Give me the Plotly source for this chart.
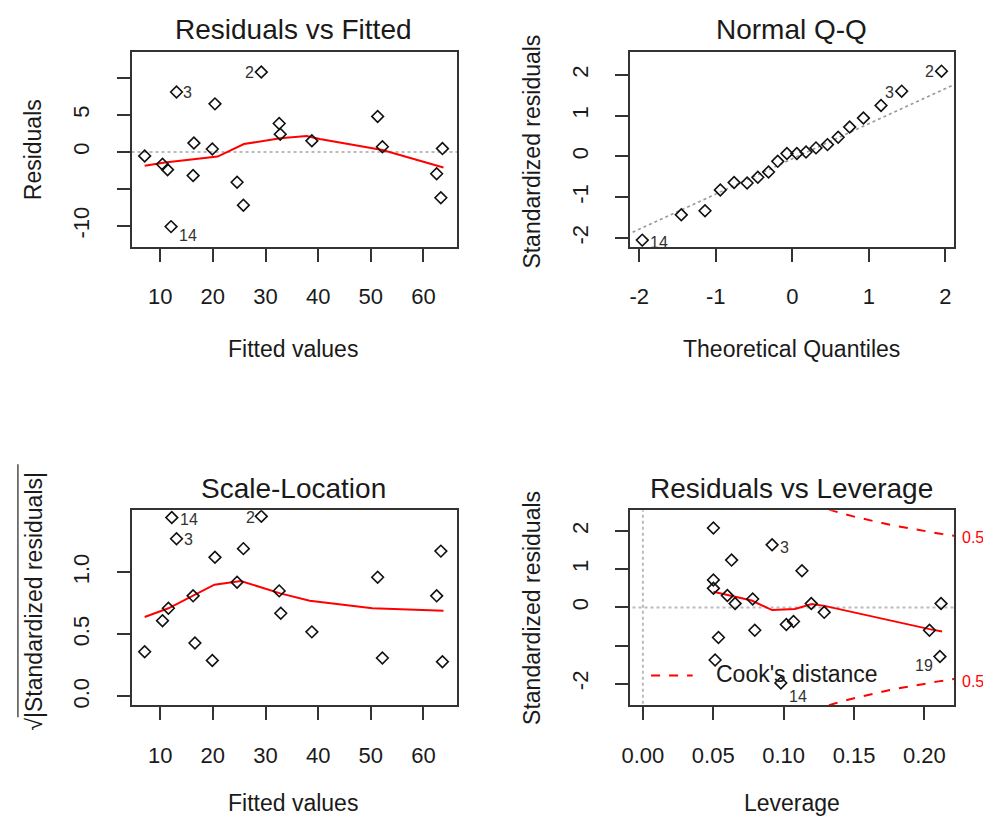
import plotly.graph_objects as go

# ---------------- data ----------------
# Residuals vs Fitted
fitted = [7.05, 10.44, 11.4, 12.06, 13.1, 16.25, 16.4, 19.9, 20.4, 24.6,
          25.8, 29.2, 32.6, 32.8, 38.8, 51.3, 52.2, 62.5, 63.3, 63.6]
resid = [-0.54, -1.66, -2.4, -10.1, 8.1, -3.2, 1.2, 0.4, 6.5, -4.1,
         -7.2, 10.8, 3.85, 2.4, 1.5, 4.8, 0.7, -2.95, -6.2, 0.45]
rf_smooth_x = [7.05, 10.9, 20.9, 25.9, 32.8, 37.8, 40.3, 52.2, 63.8]
rf_smooth_y = [-1.88, -1.43, -0.63, 1.07, 1.84, 2.15, 1.74, 0.27, -2.1]
rf_labels = [("2", 11), ("3", 4), ("14", 3)]
rf_ticks = [-10, -5, 0, 5, 10]
rf_ticktext = ["-10", "", "0", "5", ""]
fit_ticks = [10, 20, 30, 40, 50, 60]

# Normal Q-Q
theo_q = [-1.96, -1.45, -1.14, -0.94, -0.76, -0.59, -0.45, -0.31, -0.19, -0.07,
          0.06, 0.18, 0.31, 0.46, 0.60, 0.75, 0.93, 1.16, 1.43, 1.95]
std_res_q = [-2.05, -1.43, -1.33, -0.82, -0.64, -0.65, -0.51, -0.38, -0.12, 0.07,
             0.07, 0.11, 0.21, 0.29, 0.47, 0.72, 0.94, 1.25, 1.60, 2.09]
qq_line_x = [-2.3, 2.3]
qq_line_y = [-2.04, 1.92]
qq_labels = [("2", 19), ("3", 18), ("14", 0)]
qq_ticks = [-2, -1, 0, 1, 2]
qq_ticktext = ["-2", "-1", "0", "1", "2"]

# Scale-Location
sl_fitted = [7.05, 10.44, 11.56, 12.2, 13.1, 16.25, 16.6, 19.9, 20.4, 24.6,
             25.8, 29.2, 32.6, 32.9, 38.8, 51.3, 52.2, 62.5, 63.3, 63.6]
sl_vals = [0.36, 0.61, 0.71, 1.44, 1.27, 0.81, 0.43, 0.29, 1.12, 0.92,
           1.19, 1.45, 0.85, 0.67, 0.52, 0.96, 0.31, 0.81, 1.17, 0.28]
sl_smooth_x = [7.05, 11.56, 20.3, 25.3, 32.8, 38.4, 50.3, 63.8]
sl_smooth_y = [0.64, 0.71, 0.90, 0.93, 0.83, 0.77, 0.71, 0.69]
sl_labels = [("2", 11), ("3", 4), ("14", 3)]
sl_ticks = [0, 0.5, 1.0]
sl_ticktext = ["0.0", "0.5", "1.0"]

# Residuals vs Leverage
leverage = [0.0501, 0.0501, 0.0501, 0.0513, 0.0537, 0.063, 0.060, 0.0655, 0.078, 0.0795,
            0.0918, 0.098, 0.1019, 0.107, 0.113, 0.1196, 0.1288, 0.2036, 0.211, 0.2118]
lev_sr = [2.08, 0.72, 0.50, -1.38, -0.79, 1.24, 0.31, 0.10, 0.22, -0.60,
          1.64, -1.98, -0.45, -0.37, 0.96, 0.10, -0.13, -0.60, -1.29, 0.10]
lv_smooth_x = [0.0501, 0.0773, 0.0918, 0.108, 0.120, 0.129, 0.2036, 0.2126]
lv_smooth_y = [0.41, 0.18, -0.07, -0.04, 0.09, 0.04, -0.57, -0.63]
cook_x = [0.12, 0.13, 0.14, 0.15, 0.16, 0.17, 0.18, 0.19, 0.20, 0.21, 0.22, 0.225]
cook_hi = [2.708, 2.587, 2.478, 2.380, 2.291, 2.210, 2.134, 2.065, 2.000, 1.940, 1.883, 1.856]
cook_lo = [-2.708, -2.587, -2.478, -2.380, -2.291, -2.210, -2.134, -2.065, -2.000, -1.940, -1.883, -1.856]
lv_labels = [("3", 10), ("14", 11), ("19", 18)]
lev_ticks = [0, 0.05, 0.10, 0.15, 0.20]
lev_ticktext = ["0.00", "0.05", "0.10", "0.15", "0.20"]
lv_yticktext = ["-2", "", "0", "1", "2"]

# ---------------- style ----------------
W, H = 983, 821
FONT = "Liberation Sans, Arial, sans-serif"
TXT = "#1a1a1a"
TICKF = 22


def px(x):
    return x / W


def py(y):
    return 1 - y / H


fig = go.Figure()

mk = dict(symbol="diamond-open", size=9, color="#111111", line=dict(width=1.6, color="#111111"))


def pts(x, y, n):
    xa = "x" if n == 1 else f"x{n}"
    ya = "y" if n == 1 else f"y{n}"
    fig.add_trace(go.Scatter(x=x, y=y, mode="markers", marker=mk, xaxis=xa, yaxis=ya,
                             showlegend=False, hoverinfo="skip"))


def line(x, y, n, color, width=2, dash="solid"):
    xa = "x" if n == 1 else f"x{n}"
    ya = "y" if n == 1 else f"y{n}"
    fig.add_trace(go.Scatter(x=x, y=y, mode="lines", line=dict(color=color, width=width, dash=dash),
                             xaxis=xa, yaxis=ya, showlegend=False, hoverinfo="skip"))


# panel 1
line([0, 70], [0, 0], 1, "#BBBBBB", 2, "dot")
line(rf_smooth_x, rf_smooth_y, 1, "red", 2)
pts(fitted, resid, 1)
# panel 2
line(qq_line_x, qq_line_y, 2, "#999999", 1.6, "dot")
pts(theo_q, std_res_q, 2)
# panel 3
line(sl_smooth_x, sl_smooth_y, 3, "red", 2)
pts(sl_fitted, sl_vals, 3)
# panel 4
line([-0.05, 0.3], [0, 0], 4, "#BBBBBB", 2, "dot")
line([0, 0], [-3, 3], 4, "#BBBBBB", 2, "dot")
line(cook_x, cook_hi, 4, "red", 2, "dash")
line(cook_x, cook_lo, 4, "red", 2, "dash")
line(lv_smooth_x, lv_smooth_y, 4, "red", 2)
pts(leverage, lev_sr, 4)

# ---------------- axes ----------------
common = dict(showline=True, mirror=True, linecolor="#333333", linewidth=1.6,
              ticks="outside", ticklen=13, tickwidth=1.6, tickcolor="#333333",
              showgrid=False, zeroline=False,
              tickfont=dict(family=FONT, size=TICKF, color=TXT))

xd1 = [px(124), px(452)]
xd2 = [px(627), px(954)]
yd_top = [py(248), py(52)]
yd_bot = [py(708), py(512)]
XS = 16
YS = 19

fig.update_layout(
    width=W, height=H, autosize=False,
    margin=dict(l=0, r=0, t=0, b=0),
    paper_bgcolor="white", plot_bgcolor="white",
    xaxis=dict(common, domain=xd1, range=[4.62, 66.34], tickvals=fit_ticks,
               anchor="y", ticklabelstandoff=XS),
    yaxis=dict(common, domain=yd_top, range=[-12.87, 13.54], tickvals=rf_ticks,
               ticktext=rf_ticktext, tickangle=-90, anchor="x", ticklabelstandoff=YS),
    xaxis2=dict(common, domain=xd2, range=[-2.117, 2.117], tickvals=qq_ticks, ticktext=qq_ticktext,
                anchor="y2", ticklabelstandoff=XS),
    yaxis2=dict(common, domain=yd_top, range=[-2.221, 2.564], tickvals=qq_ticks, ticktext=qq_ticktext,
                tickangle=-90, anchor="x2", ticklabelstandoff=YS),
    xaxis3=dict(common, domain=xd1, range=[4.62, 66.34], tickvals=fit_ticks,
                anchor="y3", ticklabelstandoff=XS),
    yaxis3=dict(common, domain=yd_bot, range=[-0.072, 1.50], tickvals=sl_ticks,
                ticktext=sl_ticktext, tickangle=-90, anchor="x3", ticklabelstandoff=YS),
    xaxis4=dict(common, domain=xd2, range=[-0.00897, 0.2212], tickvals=lev_ticks,
                ticktext=lev_ticktext, anchor="y4", ticklabelstandoff=XS),
    yaxis4=dict(common, domain=yd_bot, range=[-2.57, 2.55], tickvals=qq_ticks,
                ticktext=lv_yticktext, tickangle=-90, anchor="x4", ticklabelstandoff=YS),
)

ann = []


def text(x, y, s, size, angle=0, color=TXT, xanchor="center"):
    ann.append(dict(x=px(x), y=py(y), xref="paper", yref="paper", text=s, showarrow=False,
                    textangle=angle, xanchor=xanchor, yanchor="middle",
                    font=dict(family=FONT, size=size, color=color)))


# titles
text(287, 30, "Residuals vs Fitted", 28)
text(790, 30, "Normal Q-Q", 28)
text(287, 490, "Scale-Location", 28)
text(790, 490, "Residuals vs Leverage", 28)
# axis titles
text(287, 350, "Fitted values", 23)
text(790, 350, "Theoretical Quantiles", 23)
text(287, 806, "Fitted values", 23)
text(790, 806, "Leverage", 23)
text(25, 150, "Residuals", 23, -90)
text(528, 152, "Standardized residuals", 23, -90)
text(25, 603, "√|Standardized residuals|", 23, -90)
text(528, 610, "Standardized residuals", 23, -90)


def ptlabel(n, xv, yv, s, dx, dy):
    xa = "x" if n == 1 else f"x{n}"
    ya = "y" if n == 1 else f"y{n}"
    ann.append(dict(x=xv, y=yv, xref=xa, yref=ya, text=s, showarrow=False,
                    xshift=dx, yshift=dy, xanchor="center", yanchor="middle",
                    font=dict(family=FONT, size=16, color="#333333")))


rf_off = {"2": (-12, 0), "3": (11, 0), "14": (17, -9)}
for s, i in rf_labels:
    ptlabel(1, fitted[i], resid[i], s, *rf_off[s])
qq_off = {"2": (-12, 0), "3": (-12, -1), "14": (17, -2)}
for s, i in qq_labels:
    ptlabel(2, theo_q[i], std_res_q[i], s, *qq_off[s])
sl_off = {"2": (-11, -1), "3": (12, -1), "14": (17, -2)}
for s, i in sl_labels:
    ptlabel(3, sl_fitted[i], sl_vals[i], s, *sl_off[s])
lv_off = {"3": (12, -3), "14": (17, -14), "19": (-16, -9)}
for s, i in lv_labels:
    ptlabel(4, leverage[i], lev_sr[i], s, *lv_off[s])

# Cook's distance legend and contour labels
text(712, 676, "Cook's distance", 23, xanchor="left")
text(960, 539, "0.5", 16, color="red", xanchor="left")
text(960, 684, "0.5", 16, color="red", xanchor="left")

fig.update_layout(annotations=ann)

fig.add_shape(type="line", xref="paper", yref="paper", x0=px(648), x1=px(690), y0=py(678), y1=py(678),
              line=dict(color="red", width=2, dash="dash"))
# radical overbar of sqrt label
fig.add_shape(type="line", xref="paper", yref="paper", x0=px(9), x1=px(9), y0=py(466), y1=py(720),
              line=dict(color="#333333", width=1.3))

fig.write_html("out.html")
